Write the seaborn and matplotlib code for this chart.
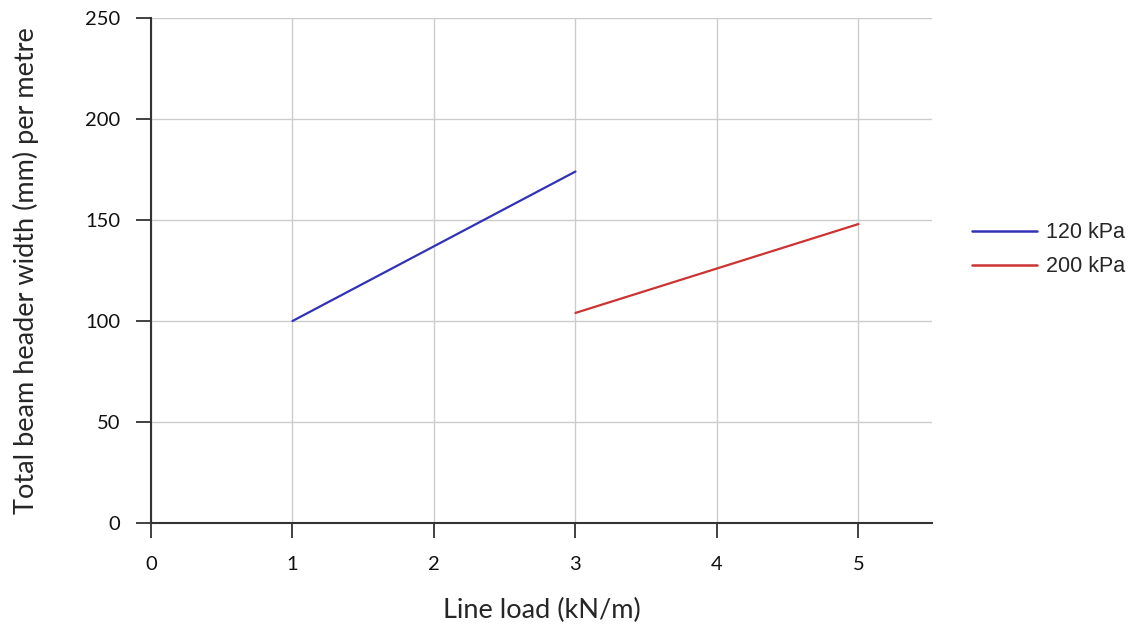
import matplotlib
matplotlib.use("Agg")
import matplotlib.pyplot as plt
import seaborn as sns
import pandas as pd
from matplotlib.lines import Line2D

# values
load_120 = [1, 3]
width_120 = [100, 174]
load_200 = [3, 5]
width_200 = [104, 148]
series_names = ["120 kPa", "200 kPa"]
x_ticks = [0, 1, 2, 3, 4, 5]
y_ticks = [0, 50, 100, 150, 200, 250]

df = pd.DataFrame({
    "load": load_120 + load_200,
    "width": width_120 + width_200,
    "series": [series_names[0]] * len(load_120) + [series_names[1]] * len(load_200),
})

sns.set_style("white")
plt.rcParams["font.family"] = ["Lato", "DejaVu Sans"]

fig = plt.figure(figsize=(11.37, 6.28), dpi=100)
ax = fig.add_axes([0.1328, 0.1672, 0.6869, 0.8041])

colors = {"120 kPa": "#3232b8", "200 kPa": "#cc3333"}
sns.lineplot(data=df, x="load", y="width", hue="series", palette=colors,
             linewidth=1.6, ax=ax, legend=False)

ax.set_xlim(0, 5.52)
ax.set_ylim(0, 250)
ax.set_xticks(x_ticks)
ax.set_yticks(y_ticks)
ax.grid(True, color="#cccccc", linewidth=1)
ax.set_axisbelow(True)

for s in ["top", "right"]:
    ax.spines[s].set_visible(False)
for s in ["left", "bottom"]:
    ax.spines[s].set_color("#333333")
    ax.spines[s].set_linewidth(1.5)

ax.tick_params(axis="both", direction="out", length=11, width=1.3, color="#333333",
               labelsize=14.5, labelcolor="#111111", bottom=True, left=True)
ax.tick_params(axis="x", pad=13)
ax.tick_params(axis="y", pad=11)

ax.set_xlabel("Line load (kN/m)", fontsize=19.5, labelpad=18)
ax.set_ylabel("Total beam header width (mm) per metre", fontsize=19.5, labelpad=33)

# legend to the right
handles = [Line2D([], [], color=colors[n], linewidth=1.8) for n in series_names]
fig.legend(handles, series_names, loc="center left",
           bbox_to_anchor=(0.855, 0.602), frameon=False, borderpad=0,
           borderaxespad=0, handlelength=3.0, handletextpad=0.45, labelspacing=0.6,
           prop={"family": ["Liberation Sans", "DejaVu Sans"], "size": 15.5})

fig.savefig("out.png", dpi=100)
